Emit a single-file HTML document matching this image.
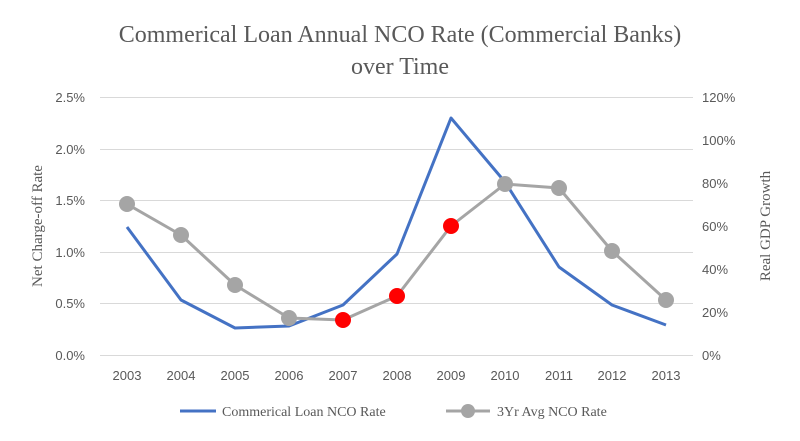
<!DOCTYPE html>
<html><head><meta charset="utf-8"><style>
body{margin:0;background:#fff}
svg{display:block}
.t{font-family:"Liberation Sans",sans-serif;font-size:13px;fill:#595959}
.s{font-family:"Liberation Serif",serif;fill:#595959}
</style></head><body>
<svg width="800" height="441" xmlns="http://www.w3.org/2000/svg">
<rect width="800" height="441" fill="#fff"/>
<text class="s" x="400" y="42" font-size="24" text-anchor="middle">Commerical Loan Annual NCO Rate (Commercial Banks)</text>
<text class="s" x="400" y="74" font-size="24" text-anchor="middle">over Time</text>
<g stroke="#d9d9d9" stroke-width="1">
<line x1="100" x2="693" y1="97.5" y2="97.5"/><line x1="100" x2="693" y1="149.5" y2="149.5"/>
<line x1="100" x2="693" y1="200.5" y2="200.5"/><line x1="100" x2="693" y1="252.5" y2="252.5"/>
<line x1="100" x2="693" y1="303.5" y2="303.5"/><line x1="100" x2="693" y1="355.5" y2="355.5"/>
</g>
<g class="t" text-anchor="end">
<text x="85" y="102">2.5%</text><text x="85" y="154">2.0%</text><text x="85" y="205">1.5%</text>
<text x="85" y="257">1.0%</text><text x="85" y="308">0.5%</text><text x="85" y="360">0.0%</text>
</g>
<g class="t" text-anchor="start">
<text x="702" y="102">120%</text><text x="702" y="145">100%</text><text x="702" y="188">80%</text>
<text x="702" y="231">60%</text><text x="702" y="274">40%</text><text x="702" y="317">20%</text><text x="702" y="360">0%</text>
</g>
<g class="t" text-anchor="middle">
<text x="127" y="380">2003</text><text x="181" y="380">2004</text><text x="235" y="380">2005</text>
<text x="289" y="380">2006</text><text x="343" y="380">2007</text><text x="397" y="380">2008</text>
<text x="451" y="380">2009</text><text x="505" y="380">2010</text><text x="559" y="380">2011</text>
<text x="612" y="380">2012</text><text x="666" y="380">2013</text>
</g>
<text class="s" font-size="15" transform="translate(42 226) rotate(-90)" text-anchor="middle">Net Charge-off Rate</text>
<text class="s" font-size="15" transform="translate(770 226) rotate(-90)" text-anchor="middle">Real GDP Growth</text>
<polyline fill="none" stroke="#4472c4" stroke-width="3" stroke-linejoin="round" points="127,227 181,300 235,328 289,326 343,305 397,254 451,118 505,182 559,267 612,305 666,325"/>
<polyline fill="none" stroke="#a5a5a5" stroke-width="3" stroke-linejoin="round" points="127,204 181,235 235,285 289,318 343,320 397,296 451,226 505,184 559,188 612,251 666,300"/>
<g fill="#a5a5a5">
<circle cx="127" cy="204" r="8"/><circle cx="181" cy="235" r="8"/><circle cx="235" cy="285" r="8"/>
<circle cx="289" cy="318" r="8"/><circle cx="505" cy="184" r="8"/><circle cx="559" cy="188" r="8"/>
<circle cx="612" cy="251" r="8"/><circle cx="666" cy="300" r="8"/>
</g>
<g fill="#ff0000"><circle cx="343" cy="320" r="8"/><circle cx="397" cy="296" r="8"/><circle cx="451" cy="226" r="8"/></g>
<line x1="180" x2="216" y1="411" y2="411" stroke="#4472c4" stroke-width="3"/>
<text class="s" x="222" y="416" font-size="14">Commerical Loan NCO Rate</text>
<line x1="446" x2="490" y1="411" y2="411" stroke="#a5a5a5" stroke-width="3"/>
<circle cx="468" cy="411" r="7" fill="#a5a5a5"/>
<text class="s" x="497" y="416" font-size="14">3Yr Avg NCO Rate</text>
</svg>
</body></html>
